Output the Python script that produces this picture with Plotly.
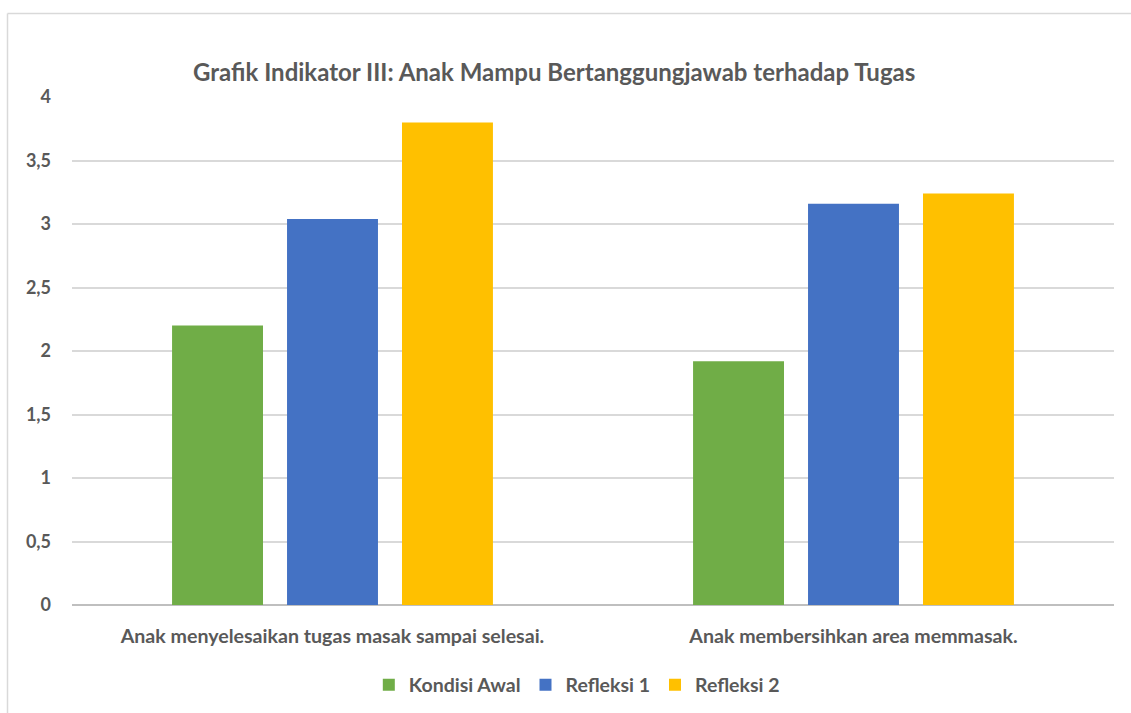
import plotly.graph_objects as go

categories = ["Anak menyelesaikan tugas masak sampai selesai.", "Anak membersihkan area memmasak."]
series_names = ["Kondisi Awal", "Refleksi 1", "Refleksi 2"]
kondisi_awal = [2.2, 1.92]
refleksi_1 = [3.04, 3.16]
refleksi_2 = [3.8, 3.24]
colors = ["#70AD47", "#4472C4", "#FFC000"]
title_text = "Grafik Indikator III: Anak Mampu Bertanggungjawab terhadap Tugas"
tick_vals = [0, 0.5, 1, 1.5, 2, 2.5, 3, 3.5, 4]

FONT = "Lato, 'Open Sans', sans-serif"
TXT = "#595959"

fig = go.Figure()
for name, vals, col in zip(series_names, [kondisi_awal, refleksi_1, refleksi_2], colors):
    fig.add_trace(go.Bar(name=name, x=categories, y=vals, marker=dict(color=col, line=dict(width=0))))

W, H = 1131, 713
L, R, T, B = 72, 17, 97, 108
pw, ph = W - L - R, H - T - B

def px_x(p):
    return (p - L) / pw

def px_y(p):
    return (H - B - p) / ph

fig.update_layout(
    width=W, height=H,
    margin=dict(l=L, r=R, t=T, b=B),
    paper_bgcolor="white", plot_bgcolor="white",
    barmode="group", bargap=0.338, bargroupgap=0.209,
    separators=",.",
    font=dict(family=FONT, color=TXT, size=18),
    title=dict(text="<b>" + title_text + "</b>", x=0.49, xref="container", xanchor="center",
               y=1 - 73 / H, yref="container", yanchor="middle",
               font=dict(size=24, color=TXT, family=FONT)),
    legend=dict(orientation="h", x=0.51, xref="container", xanchor="center",
                y=1 - 685 / H, yref="container", yanchor="middle",
                font=dict(size=19.5, color=TXT, family=FONT, weight="bold"),
                itemwidth=30, traceorder="normal"),
    xaxis=dict(showgrid=False, showline=False, ticks="", tickfont=dict(size=19.6, weight="bold", color=TXT),
               ticklabelstandoff=17),
    yaxis=dict(range=[0, 4], tickvals=tick_vals, showgrid=True, gridcolor="#D9D9D9", gridwidth=1.5,
               zeroline=True, zerolinecolor="#BFBFBF", zerolinewidth=2, showline=False, ticks="",
               tickfont=dict(size=18, weight="bold", color=TXT), ticklabelstandoff=20),
    shapes=[
        dict(type="line", xref="paper", yref="paper", x0=px_x(7.5), x1=px_x(1135), y0=px_y(13.5), y1=px_y(13.5),
             line=dict(color="#D9D9D9", width=1.5)),
        dict(type="line", xref="paper", yref="paper", x0=px_x(7.5), x1=px_x(7.5), y0=px_y(13.5), y1=px_y(720),
             line=dict(color="#D9D9D9", width=1.5)),
    ],
)

fig.write_html("out.html", config={"displayModeBar": False},
               post_script="document.body.style.margin='0';")
